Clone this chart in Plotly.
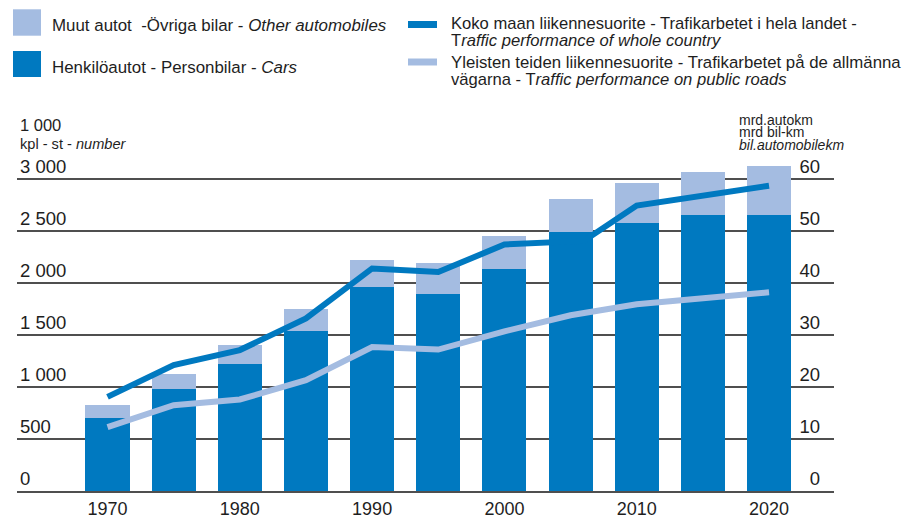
import plotly.graph_objects as go

# ---------------- data ----------------
years = [1970, 1975, 1980, 1985, 1990, 1995, 2000, 2005, 2010, 2015, 2020]
cars = [702, 981, 1225, 1542, 1959, 1894, 2138, 2494, 2581, 2651, 2651]          # 1000 vehicles
other = [129, 144, 183, 205, 266, 302, 318, 314, 384, 413, 478]                  # 1000 vehicles

whole_years = [1970, 1975, 1980, 1985, 1990, 1995, 2000, 2006, 2010, 2015, 2020]
whole_country = [18.1, 24.2, 27.1, 33.2, 42.8, 42.1, 47.4, 48.1, 54.9, 56.8, 58.7]   # bn vehicle-km
public_roads = [12.3, 16.5, 17.6, 21.3, 27.7, 27.2, 30.7, 33.8, 35.9, 37.0, 38.2]    # bn vehicle-km

left_ticks = [0, 500, 1000, 1500, 2000, 2500, 3000]
left_ticktext = ["0", "500", "1 000", "1 500", "2 000", "2 500", "3 000"]
right_ticks = [0, 10, 20, 30, 40, 50, 60]
x_ticks = [1970, 1980, 1990, 2000, 2010, 2020]

# ---------------- style ----------------
DARK = "#0079C0"
LIGHT = "#A4BCE1"
GRID = "#4f4f4f"
TXT = "#1e1e1e"
FONT = "Liberation Sans, Arial, sans-serif"

W, H = 912, 521
L, R, T, B = 17, 834, 150, 491          # plot area in pixels
PW, PH = R - L, B - T


def px(x):
    return (x - L) / PW


def py(y):
    return (B - y) / PH


fig = go.Figure()
fig.add_trace(go.Bar(x=years, y=cars, marker=dict(color=DARK, line=dict(width=0)),
                     width=3.33, name="Henkilöautot - Personbilar - Cars"))
fig.add_trace(go.Bar(x=years, y=other, marker=dict(color=LIGHT, line=dict(width=0)),
                     width=3.33, name="Muut autot - Övriga bilar - Other automobiles"))
fig.add_trace(go.Scatter(x=years, y=public_roads, yaxis="y2", mode="lines",
                         line=dict(color=LIGHT, width=6), name="public roads"))
fig.add_trace(go.Scatter(x=whole_years, y=whole_country, yaxis="y2", mode="lines",
                         line=dict(color=DARK, width=6), name="whole country"))

ymax_left = 3278.8
fig.update_layout(
    width=W, height=H, autosize=False,
    margin=dict(l=L, r=W - R, t=T, b=H - B, pad=0),
    paper_bgcolor="white", plot_bgcolor="white",
    barmode="stack", bargap=0,
    showlegend=False,
    font=dict(family=FONT, color=TXT, size=18),
    xaxis=dict(range=[1963.16, 2024.91], tickvals=x_ticks, showgrid=False, zeroline=False,
               showline=True, linecolor=GRID, linewidth=1.5, automargin=False,
               ticks="outside", ticklen=1, tickcolor="rgba(0,0,0,0)",
               tickfont=dict(size=18, color=TXT)),
    yaxis=dict(range=[0, ymax_left], tickvals=left_ticks, ticktext=left_ticktext,
               ticklabelposition="inside top", showgrid=True, gridcolor=GRID, gridwidth=1.5,
               zeroline=False, showline=False, ticks="", automargin=False,
               tickfont=dict(size=18.5, color=TXT)),
    yaxis2=dict(range=[0, ymax_left / 50], tickvals=right_ticks, overlaying="y", side="right",
                ticklabelposition="inside top", ticklabelstandoff=11,
                showgrid=False, zeroline=False, showline=False, automargin=False,
                ticks="", tickfont=dict(size=18.5, color=TXT)),
)

shapes = []
ann = []


def text(x, y, s, size, anchor="left"):
    ann.append(dict(x=px(x), y=py(y), xref="paper", yref="paper", text=s, showarrow=False,
                    xanchor=anchor, yanchor="middle", font=dict(size=size, color=TXT, family=FONT)))


def rect(x0, y0, x1, y1, color):
    shapes.append(dict(type="rect", xref="paper", yref="paper", x0=px(x0), x1=px(x1),
                       y0=py(y1), y1=py(y0), fillcolor=color, line=dict(width=0), layer="above"))


# legend (left column)
rect(13, 9.3, 41, 35.7, LIGHT)
rect(13, 51, 41, 77, DARK)
text(50, 25, "Muut autot  -Övriga bilar - <i>Other automobiles</i>", 16.9)
text(50, 67, "Henkilöautot - Personbilar - <i>Cars</i>", 16.9)
# legend (right column)
rect(408, 21, 437, 28, DARK)
rect(408, 58.5, 437, 65.5, LIGHT)
text(449, 23, "Koko maan liikennesuorite - Trafikarbetet i hela landet -", 16.6)
text(449, 40.5, "T<i>raffic performance of whole country</i>", 16.6)
text(449, 62, "Yleisten teiden liikennesuorite - Trafikarbetet på de allmänna", 16.8)
text(449, 79.5, "vägarna - T<i>raffic performance on public roads</i>", 16.6)
# axis unit labels
text(18, 125, "1 000", 16.5)
text(18, 144, "kpl - st - <i>number</i>", 14.6)
text(737, 119.5, "mrd.autokm", 14)
text(737, 132, "mrd bil-km", 14)
text(737, 144.5, "<i>bil.automobilekm</i>", 14)

fig.update_layout(shapes=shapes, annotations=ann)
fig.write_html("out.html", config={"responsive": False, "displayModeBar": False},
               post_script="document.body.style.margin='0';document.body.style.padding='0';")
